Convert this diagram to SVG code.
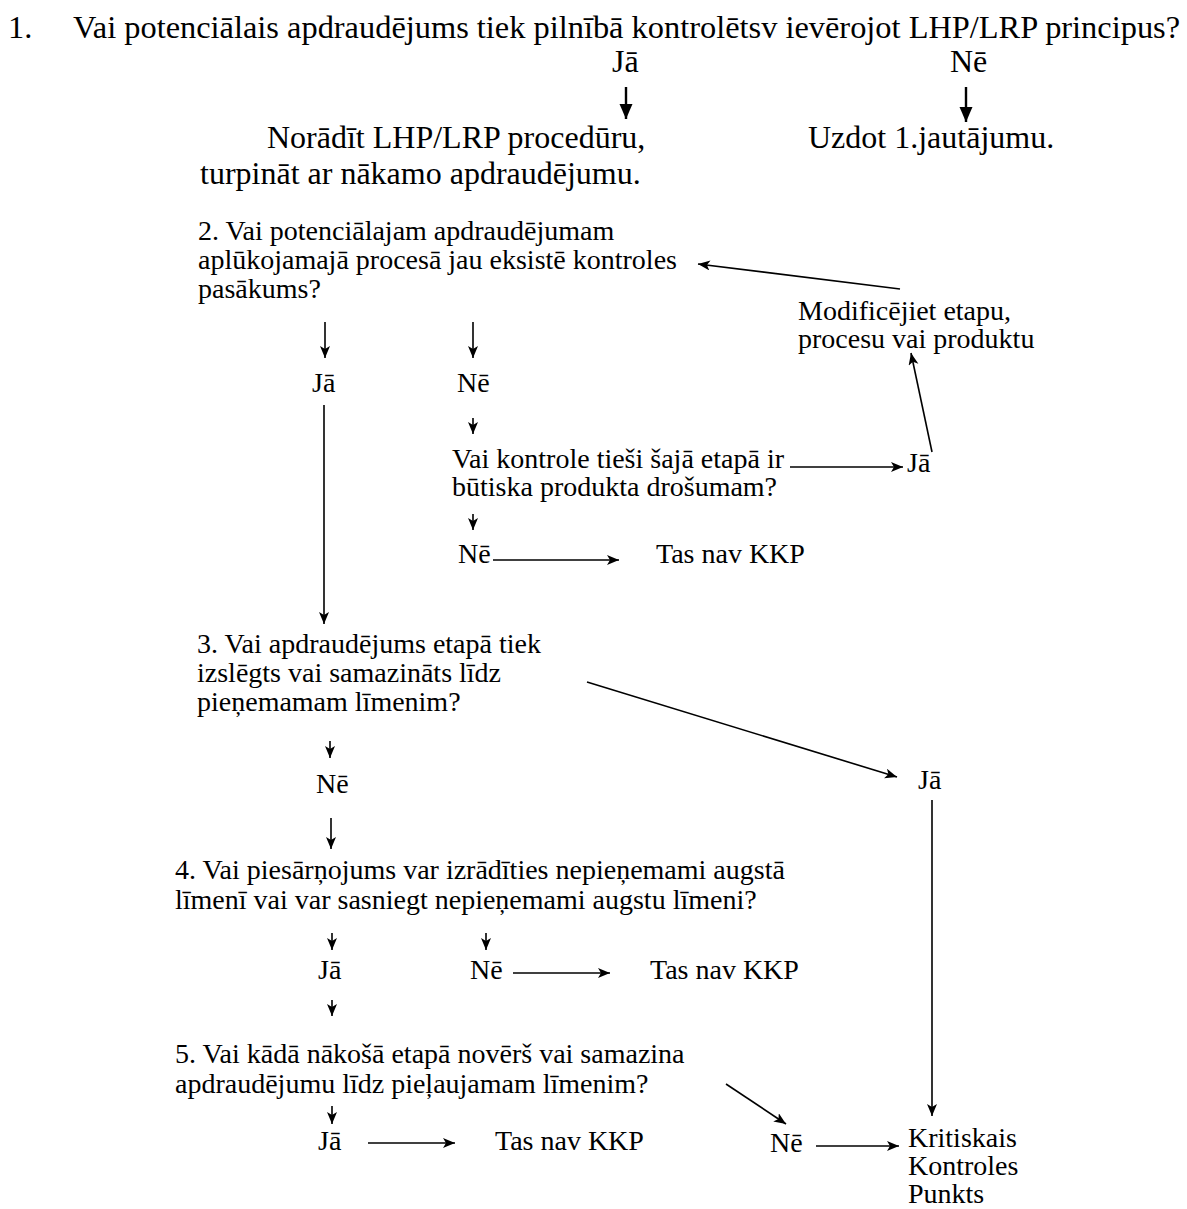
<svg xmlns="http://www.w3.org/2000/svg" width="1187" height="1209" viewBox="0 0 1187 1209">
<style>
text{font-family:"Liberation Serif","Times New Roman",serif;fill:#000}
.top{font-size:32.4px}
.big{font-size:32px}
.mid{font-size:28px}
.c line{stroke:#000;stroke-width:1.6;fill:none}
.c line.thick{stroke-width:2.4}
</style>
<defs>
<marker id="ah" markerUnits="userSpaceOnUse" markerWidth="14" markerHeight="12" refX="12" refY="5" orient="auto"><path d="M0,0 L12,5 L0,10 L3,5 Z" fill="#000"/></marker>
<marker id="ahb" markerUnits="userSpaceOnUse" markerWidth="16" markerHeight="16" refX="15" refY="6.5" orient="auto"><path d="M0,0 L15,6.5 L0,13 Z" fill="#000"/></marker>
</defs>
<rect width="1187" height="1209" fill="#fff"/>
<g id="q1"><text class="top" x="8" y="38">1.</text><text class="top" x="73" y="38">Vai potenciālais apdraudējums tiek pilnībā kontrolētsv ievērojot LHP/LRP principus?</text></g>
<g id="q1-ja"><text class="big" x="612" y="72">Jā</text></g>
<g id="q1-ne"><text class="big" x="950" y="72">Nē</text></g>
<g id="q1-ja-res"><text class="big" x="267" y="148">Norādīt LHP/LRP procedūru,</text><text class="big" x="200" y="184">turpināt ar nākamo apdraudējumu.</text></g>
<g id="q1-ne-res"><text class="big" x="808" y="148">Uzdot 1.jautājumu.</text></g>
<g id="q2"><text class="mid" x="198" y="240">2. Vai potenciālajam apdraudējumam</text><text class="mid" x="198" y="269">aplūkojamajā procesā jau eksistē kontroles</text><text class="mid" x="198" y="298">pasākums?</text></g>
<g id="modify"><text class="mid" x="798" y="320">Modificējiet etapu,</text><text class="mid" x="798" y="348">procesu vai produktu</text></g>
<g id="q2-ja"><text class="mid" x="312" y="392">Jā</text></g>
<g id="q2-ne"><text class="mid" x="457" y="392">Nē</text></g>
<g id="q2b"><text class="mid" x="452" y="468">Vai kontrole tieši šajā etapā ir</text><text class="mid" x="452" y="496">būtiska produkta drošumam?</text></g>
<g id="q2b-ja"><text class="mid" x="907" y="472">Jā</text></g>
<g id="q2b-ne"><text class="mid" x="458" y="563">Nē</text></g>
<g id="kkp1"><text class="mid" x="656" y="563">Tas nav KKP</text></g>
<g id="q3"><text class="mid" x="197" y="653">3. Vai apdraudējums etapā tiek</text><text class="mid" x="197" y="682">izslēgts vai samazināts līdz</text><text class="mid" x="197" y="711">pieņemamam līmenim?</text></g>
<g id="q3-ja"><text class="mid" x="918" y="789">Jā</text></g>
<g id="q3-ne"><text class="mid" x="316" y="793">Nē</text></g>
<g id="q4"><text class="mid" x="175" y="879">4. Vai piesārņojums var izrādīties nepieņemami augstā</text><text class="mid" x="175" y="909">līmenī vai var sasniegt nepieņemami augstu līmeni?</text></g>
<g id="q4-ja"><text class="mid" x="318" y="979">Jā</text></g>
<g id="q4-ne"><text class="mid" x="470" y="979">Nē</text></g>
<g id="kkp2"><text class="mid" x="650" y="979">Tas nav KKP</text></g>
<g id="q5"><text class="mid" x="175" y="1063">5. Vai kādā nākošā etapā novērš vai samazina</text><text class="mid" x="175" y="1093">apdraudējumu līdz pieļaujamam līmenim?</text></g>
<g id="q5-ja"><text class="mid" x="318" y="1150">Jā</text></g>
<g id="kkp3"><text class="mid" x="495" y="1150">Tas nav KKP</text></g>
<g id="q5-ne"><text class="mid" x="770" y="1152">Nē</text></g>
<g id="ccp"><text class="mid" x="908" y="1147">Kritiskais</text><text class="mid" x="908" y="1175">Kontroles</text><text class="mid" x="908" y="1203">Punkts</text></g>
<g id="connectors" class="c">
<line class="thick" x1="626" y1="87" x2="626" y2="119" marker-end="url(#ahb)"/>
<line class="thick" x1="966" y1="87" x2="966" y2="122" marker-end="url(#ahb)"/>
<line x1="900" y1="289" x2="698" y2="264" marker-end="url(#ah)"/>
<line x1="325" y1="322" x2="325" y2="358" marker-end="url(#ah)"/>
<line x1="473" y1="322" x2="473" y2="358" marker-end="url(#ah)"/>
<line x1="324" y1="405" x2="324" y2="624" marker-end="url(#ah)"/>
<line x1="473" y1="418" x2="473" y2="434" marker-end="url(#ah)"/>
<line x1="790" y1="467" x2="903" y2="467" marker-end="url(#ah)"/>
<line x1="932" y1="452" x2="911" y2="353" marker-end="url(#ah)"/>
<line x1="473" y1="514" x2="473" y2="530" marker-end="url(#ah)"/>
<line x1="493" y1="560" x2="619" y2="560" marker-end="url(#ah)"/>
<line x1="587" y1="682" x2="897" y2="777" marker-end="url(#ah)"/>
<line x1="330" y1="741" x2="330" y2="758" marker-end="url(#ah)"/>
<line x1="331" y1="818" x2="331" y2="849" marker-end="url(#ah)"/>
<line x1="932" y1="800" x2="932" y2="1116" marker-end="url(#ah)"/>
<line x1="332" y1="933" x2="332" y2="950" marker-end="url(#ah)"/>
<line x1="486" y1="933" x2="486" y2="950" marker-end="url(#ah)"/>
<line x1="513" y1="973" x2="610" y2="973" marker-end="url(#ah)"/>
<line x1="332" y1="1000" x2="332" y2="1016" marker-end="url(#ah)"/>
<line x1="332" y1="1106" x2="332" y2="1124" marker-end="url(#ah)"/>
<line x1="368" y1="1143" x2="455" y2="1143" marker-end="url(#ah)"/>
<line x1="726" y1="1084" x2="786" y2="1124" marker-end="url(#ah)"/>
<line x1="816" y1="1146" x2="899" y2="1146" marker-end="url(#ah)"/>
</g>
</svg>
